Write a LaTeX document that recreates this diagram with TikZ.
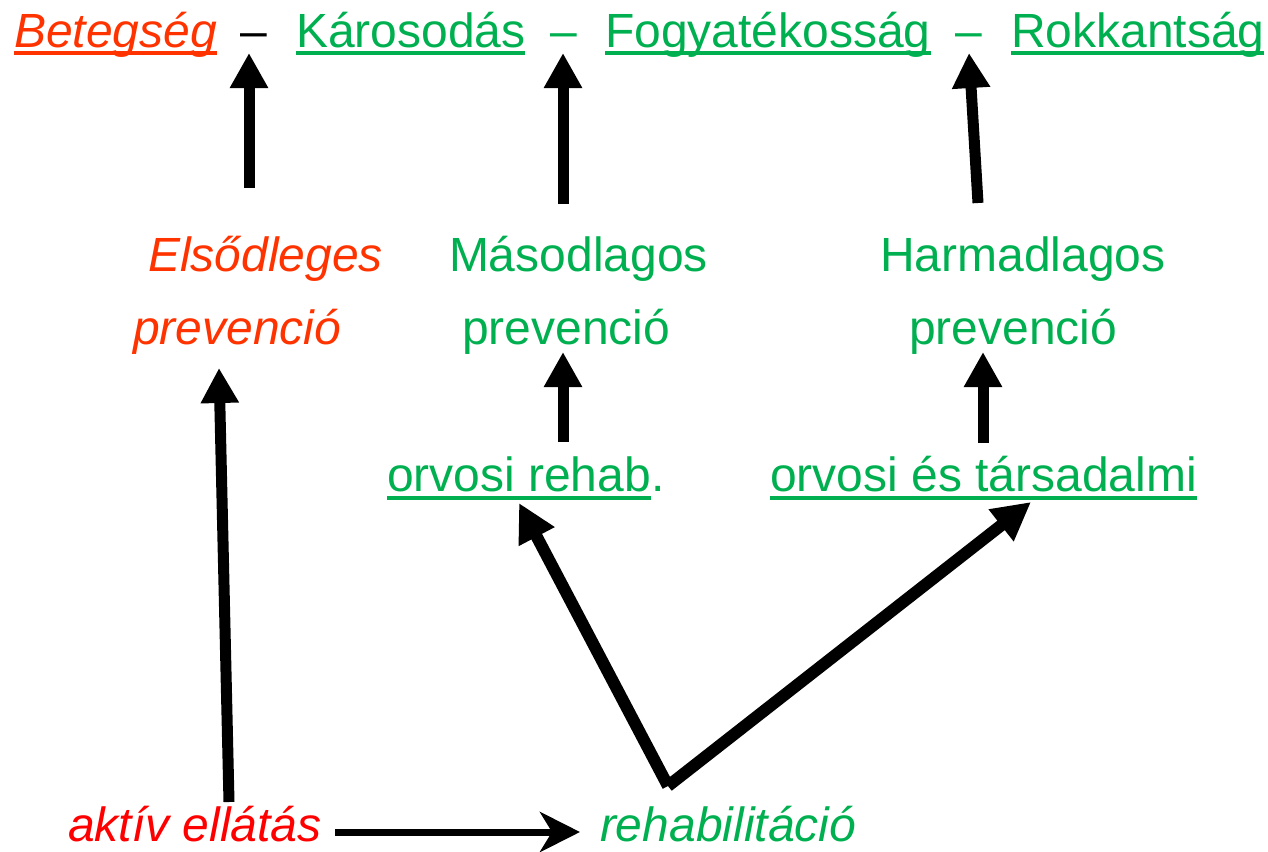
\documentclass[tikz,border=0pt]{standalone}
\usepackage{fontspec}
\setmainfont{Liberation Sans}
\usetikzlibrary{arrows.meta}
\definecolor{orred}{HTML}{FF3300}
\definecolor{pured}{HTML}{FF0000}
\definecolor{grn}{HTML}{00B050}
\begin{document}
\begin{tikzpicture}[x=1pt,y=-1pt,
  lbl/.style={inner sep=0pt, outer sep=0pt, anchor=base west, font=\fontsize{48}{56}\selectfont},
  itl/.style={font=\fontsize{48}{56}\selectfont\itshape},
  ulin/.style={line width=4pt},
  bigarrow/.style={line width=11pt, -{Triangle[length=35pt,width=36pt]}},
  diagarrow/.style={line width=12pt, -{Triangle[length=38pt,width=38pt]}},
  flatarrow/.style={line width=7pt, -{Stealth[length=40pt,width=40pt,inset=12pt]}}]
\useasboundingbox (0,0) rectangle (1268,851);
% top row
\node[lbl, itl, text=orred] (bet) at (14,48) {Betegség};
\node[lbl, text=black] (d1) at (240,48) {–};
\node[lbl, text=grn] (kar) at (296,48) {Károsodás};
\node[lbl, text=grn] (d2) at (550,48) {–};
\node[lbl, text=grn] (fog) at (605,48) {Fogyatékosság};
\node[lbl, text=grn] (d3) at (955,48) {–};
\node[lbl, text=grn] (rok) at (1011,48) {Rokkantság};
\draw[ulin, orred] ([yshift=-5.5pt]bet.base west) -- ([yshift=-5.5pt]bet.base east);
\draw[ulin, grn] ([yshift=-5.5pt]kar.base west) -- ([yshift=-5.5pt]kar.base east);
\draw[ulin, grn] ([yshift=-5.5pt]fog.base west) -- ([yshift=-5.5pt]fog.base east);
\draw[ulin, grn] ([yshift=-5.5pt]rok.base west) -- ([yshift=-5.5pt]rok.base east);
% middle row
\node[lbl, itl, text=orred] (els) at (148,271) {Elsődleges};
\node[lbl, itl, text=orred] (prev1) at (133,344) {prevenció};
\node[lbl, text=grn] (mas) at (449,271) {Másodlagos};
\node[lbl, text=grn] (prev2) at (462,344) {prevenció};
\node[lbl, text=grn] (har) at (880,271) {Harmadlagos};
\node[lbl, text=grn] (prev3) at (909,344) {prevenció};
% rehab row
\node[lbl, text=grn] (orv) at (387,491) {orvosi rehab};
\node[lbl, text=grn] (dot) at (orv.base east) {.};
\node[lbl, text=grn] (ots) at (770,491) {orvosi és társadalmi};
\draw[ulin, grn] ([yshift=-6.5pt]orv.base west) -- ([yshift=-6.5pt]orv.base east);
\draw[ulin, grn] ([yshift=-6.5pt]ots.base west) -- ([yshift=-6.5pt]ots.base east);
% bottom row
\node[lbl, itl, text=pured, text depth=0pt] (akt) at (68,841) {aktív ellátás};
\node[lbl, itl, text=grn, text depth=0pt] (reh) at (600,841) {rehabilitáció};
% connector coordinates
\coordinate (a1s) at (249,188); \coordinate (a1t) at (249,53);
\coordinate (a2s) at (563,204); \coordinate (a2t) at (563,53);
\coordinate (a3s) at (978,203); \coordinate (a3t) at (969,53);
\coordinate (a4s) at (229,802); \coordinate (a4t) at (219,368);
\coordinate (a5s) at (563,442); \coordinate (a5t) at (563,352);
\coordinate (a6s) at (983,443); \coordinate (a6t) at (983,352);
\coordinate (v) at (668,786);
\coordinate (a7t) at (519,503);
\coordinate (a8t) at (1031,502);
\coordinate (a9s) at (335,832); \coordinate (a9t) at (580,832);
% arrows
\draw[bigarrow] (a1s) -- (a1t);
\draw[bigarrow] (a2s) -- (a2t);
\draw[bigarrow] (a3s) -- (a3t);
\draw[bigarrow] (a4s) -- (a4t);
\draw[bigarrow] (a5s) -- (a5t);
\draw[bigarrow] (a6s) -- (a6t);
\draw[diagarrow] (v) -- (a7t);
\draw[diagarrow] (v) -- (a8t);
\draw[flatarrow] (a9s) -- (a9t);
\end{tikzpicture}
\end{document}
